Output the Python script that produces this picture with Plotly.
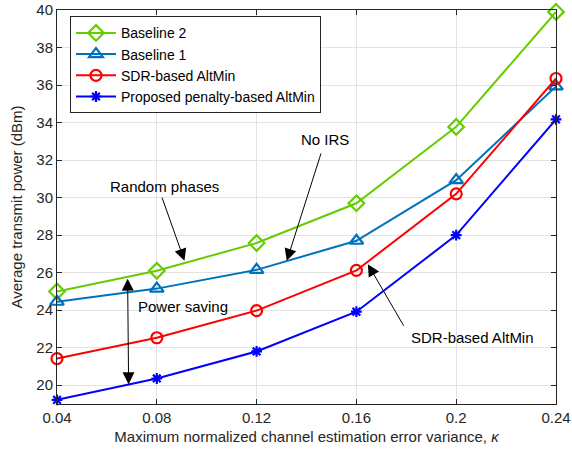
import plotly.graph_objects as go

kappa = [0.04, 0.08, 0.12, 0.16, 0.2, 0.24]
x_tick_labels = ["0.04", "0.08", "0.12", "0.16", "0.2", "0.24"]
y_ticks = [20, 22, 24, 26, 28, 30, 32, 34, 36, 38, 40]

baseline2 = [25.0, 26.1, 27.58, 29.7, 33.77, 39.9]
baseline1 = [24.45, 25.15, 26.15, 27.7, 30.93, 35.93]
sdr_altmin = [21.42, 22.53, 23.98, 26.12, 30.2, 36.35]
proposed = [19.22, 20.36, 21.8, 23.92, 28.0, 34.17]

series_names = ["Baseline 2", "Baseline 1", "SDR-based AltMin", "Proposed penalty-based AltMin"]

TXT = "#262626"
FONT = "Liberation Sans, Arial, sans-serif"

fig = go.Figure()
styles = [
    (baseline2, "#66cc00", "diamond-open", 12),
    (baseline1, "#0072bd", "triangle-up-open", 12),
    (sdr_altmin, "#ff0000", "circle-open", 11),
    (proposed, "#0000ff", "asterisk-open", 9),
]
for name, (vals, col, sym, sz) in zip(series_names, styles):
    fig.add_trace(go.Scatter(
        x=kappa, y=vals, name=name, mode="lines+markers",
        line=dict(color=col, width=2),
        marker=dict(symbol=sym, size=sz, color=col, line=dict(color=col, width=2.2)),
        cliponaxis=False,
    ))

arrow_common = dict(xref="x", yref="y", axref="x", ayref="y", showarrow=True,
                    arrowhead=2, arrowsize=2.4, arrowwidth=1, arrowcolor="black",
                    standoff=0, startstandoff=0, text="")
# arrows: tip (x,y), tail (ax,ay)
fig.add_annotation(x=0.0911, y=26.63, ax=0.0819, ay=30.08, **arrow_common)
fig.add_annotation(x=0.1321, y=26.63, ax=0.1460, ay=32.43, **arrow_common)
fig.add_annotation(x=0.1646, y=26.45, ax=0.1793, ay=23.09, **arrow_common)
fig.add_annotation(x=0.0687, y=20.05, ax=0.0683, ay=25.76, arrowside="end+start", **arrow_common)

text_common = dict(xref="x", yref="y", showarrow=False, font=dict(family=FONT, size=15, color="black"))
fig.add_annotation(x=0.0831, y=30.61, text="Random phases", **text_common)
fig.add_annotation(x=0.1476, y=33.12, text="No IRS", **text_common)
fig.add_annotation(x=0.2065, y=22.56, text="SDR-based AltMin", **text_common)
fig.add_annotation(x=0.0903, y=24.21, text="Power saving", **text_common)

axis_common = dict(showline=True, linecolor=TXT, linewidth=1, mirror="ticks",
                   ticks="inside", ticklen=5, tickcolor=TXT, automargin=False,
                   showgrid=True, gridcolor="#e3e3e3", gridwidth=1, zeroline=False,
                   tickfont=dict(family=FONT, size=15, color=TXT))

fig.update_xaxes(range=[0.04, 0.24], tickvals=kappa, ticktext=x_tick_labels,
                 title=dict(text="Maximum normalized channel estimation error variance, <i>κ</i>",
                            font=dict(family=FONT, size=15, color=TXT), standoff=6),
                 **axis_common)
fig.update_yaxes(range=[19, 40], tickvals=y_ticks,
                 title=dict(text="Average transmit power (dBm)",
                            font=dict(family=FONT, size=15, color=TXT), standoff=10),
                 **axis_common)

fig.update_layout(
    width=572, height=452,
    margin=dict(l=57, r=16, t=10, b=48),
    paper_bgcolor="white", plot_bgcolor="white",
    font=dict(family=FONT, color=TXT),
    legend=dict(x=0.026, y=0.984, xanchor="left", yanchor="top",
                bgcolor="white", bordercolor=TXT, borderwidth=1,
                font=dict(family=FONT, size=14, color="black"),
                tracegroupgap=0, itemwidth=40),
    showlegend=True,
)

fig.write_html("out.html", config={"displayModeBar": False},
               post_script="document.body.style.margin='0';document.body.style.overflow='hidden';")
